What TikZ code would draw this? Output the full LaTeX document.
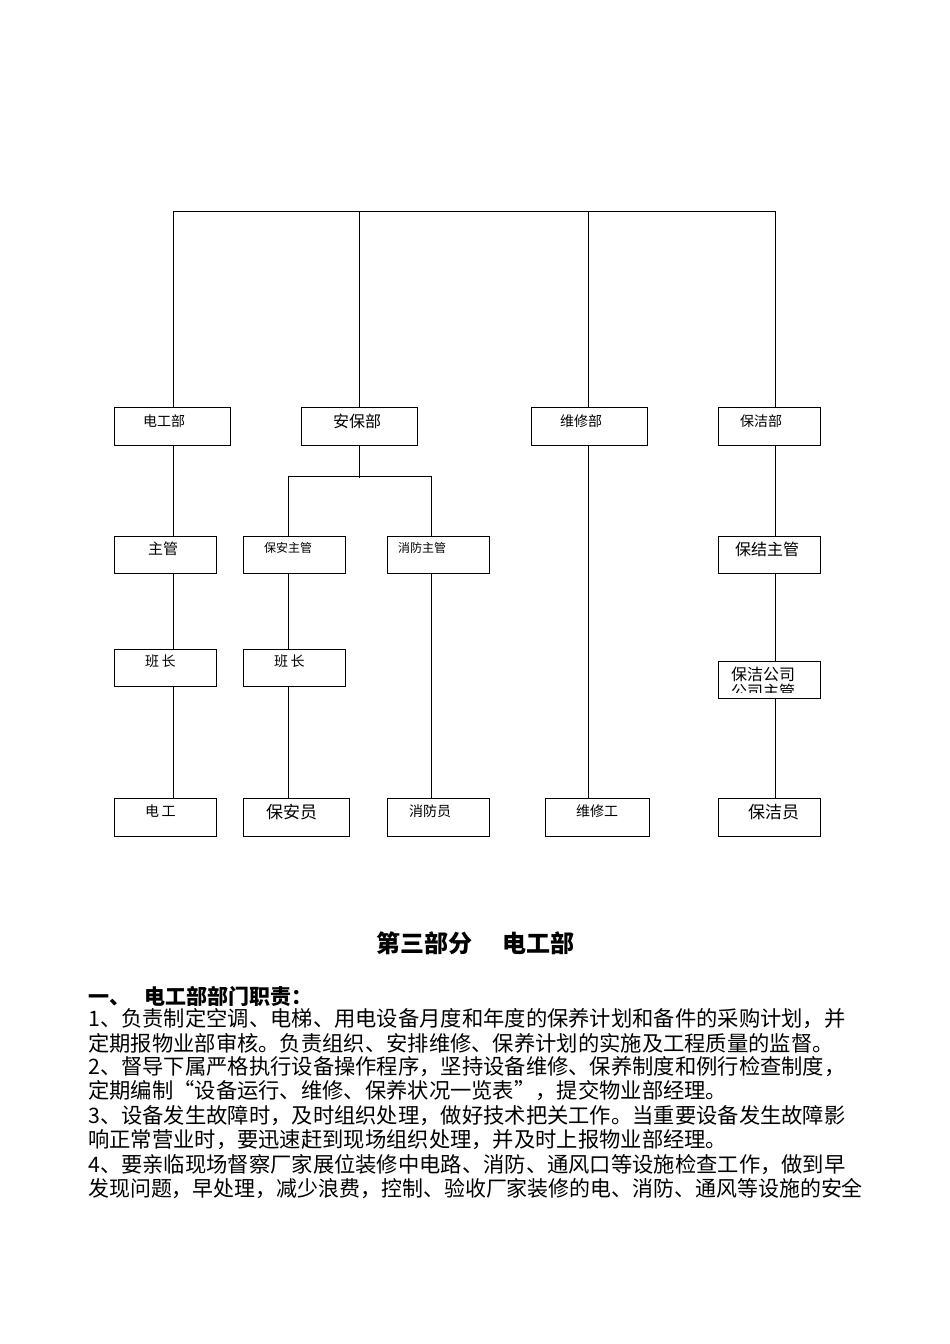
\documentclass[tikz,border=0pt]{standalone}
\usepackage{fontspec}
\setmainfont{Noto Sans CJK SC}
\begin{document}
\begin{tikzpicture}[x=1pt,y=-1pt,
  bx/.style={draw,line width=0.8pt,inner sep=0pt,anchor=north west},
  lb/.style={font=\fontsize{14}{14}\selectfont,anchor=north west,inner sep=0pt},
  ln/.style={line width=0.8pt},
  para/.style={font=\fontsize{21.3}{24}\selectfont,anchor=west,inner sep=0pt}]
\useasboundingbox (0,0) rectangle (950,1344);
% connectors
\draw[ln] (173,211) -- (775,211);
\draw[ln] (173,211) -- (173,798);
\draw[ln] (359,211) -- (359,407);
\draw[ln] (588,211) -- (588,798);
\draw[ln] (775,211) -- (775,798);
\draw[ln] (359,445) -- (359,478);
\draw[ln] (288,476) -- (431,476);
\draw[ln] (288,476) -- (288,798);
\draw[ln] (431,476) -- (431,798);
% boxes
\node[bx,fill=white,minimum width=116,minimum height=38] (a1) at (114,407) {};\node[lb] at (143,414) {电工部};
\node[bx,fill=white,minimum width=116,minimum height=38] (a2) at (301,407) {};\node[lb,font=\fontsize{16}{16}\selectfont] at (333,414) {安保部};
\node[bx,fill=white,minimum width=116,minimum height=38] (a3) at (531,407) {};\node[lb] at (560,414) {维修部};
\node[bx,fill=white,minimum width=102,minimum height=38] (a4) at (718,407) {};\node[lb] at (740,414) {保洁部};
\node[bx,fill=white,minimum width=102,minimum height=37] (b1) at (114,536) {};\node[lb,font=\fontsize{15}{15}\selectfont] at (148,542) {主管};
\node[bx,fill=white,minimum width=102,minimum height=37] (b2) at (243,536) {};\node[lb,font=\fontsize{12}{12}\selectfont] at (264,542) {保安主管};
\node[bx,fill=white,minimum width=102,minimum height=37] (b3) at (387,536) {};\node[lb,font=\fontsize{12}{12}\selectfont] at (398,542) {消防主管};
\node[bx,fill=white,minimum width=102,minimum height=37] (b4) at (718,536) {};\node[lb,font=\fontsize{16}{16}\selectfont] at (735,542) {保结主管};
\node[bx,fill=white,minimum width=102,minimum height=37] (c1) at (114,649) {};\node[lb] at (145,655) {班\,长};
\node[bx,fill=white,minimum width=102,minimum height=37] (c2) at (243,649) {};\node[lb] at (274,655) {班\,长};
\node[bx,fill=white,minimum width=102,minimum height=37] (c4) at (718,661) {};
\begin{scope}\clip (720,663) rectangle (818,692);
\node[lb,font=\fontsize{16}{17}\selectfont,align=left] at (731,667) {保洁公司\\公司主管};
\end{scope}
\node[bx,fill=white,minimum width=102,minimum height=38] (d1) at (114,798) {};\node[lb] at (145,805) {电\,工};
\node[bx,fill=white,minimum width=106,minimum height=38] (d2) at (243,798) {};\node[lb,font=\fontsize{17}{17}\selectfont] at (266,804) {保安员};
\node[bx,fill=white,minimum width=102,minimum height=38] (d3) at (387,798) {};\node[lb] at (409,805) {消防员};
\node[bx,fill=white,minimum width=104,minimum height=38] (d4) at (545,798) {};\node[lb] at (576,805) {维修工};
\node[bx,fill=white,minimum width=102,minimum height=38] (d5) at (718,798) {};\node[lb,font=\fontsize{17}{17}\selectfont] at (748,804) {保洁员};
% text
\node[font=\fontsize{24}{24}\selectfont\bfseries,inner sep=0pt] (t) at (475,943) {第三部分\hspace{30pt}电工部};
\node[para,font=\fontsize{21}{21}\selectfont\bfseries] (h) at (88,996) {一、\hspace{14pt}电工部部门职责：};
\node[para] (p1) at (88,1019) {1、负责制定空调、电梯、用电设备月度和年度的保养计划和备件的采购计划，并};
\node[para] (p2) at (88,1043) {定期报物业部审核。负责组织、安排维修、保养计划的实施及工程质量的监督。};
\node[para] (p3) at (88,1067) {2、督导下属严格执行设备操作程序，坚持设备维修、保养制度和例行检查制度，};
\node[para] (p4) at (88,1091) {定期编制“设备运行、维修、保养状况一览表”，提交物业部经理。};
\node[para] (p5) at (88,1116) {3、设备发生故障时，及时组织处理，做好技术把关工作。当重要设备发生故障影};
\node[para] (p6) at (88,1140) {响正常营业时，要迅速赶到现场组织处理，并及时上报物业部经理。};
\node[para] (p7) at (88,1165) {4、要亲临现场督察厂家展位装修中电路、消防、通风口等设施检查工作，做到早};
\node[para] (p8) at (88,1189) {\scalebox{0.983}[1]{发现问题，早处理，减少浪费，控制、验收厂家装修的电、消防、通风等设施的安全}};
\end{tikzpicture}
\end{document}
